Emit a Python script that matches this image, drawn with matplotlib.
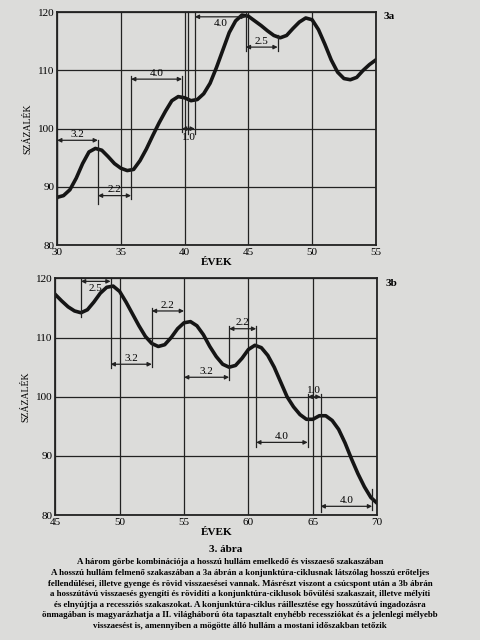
import matplotlib
matplotlib.use("Agg")
import matplotlib.pyplot as plt

plt.rcParams['font.family'] = ['Liberation Serif', 'DejaVu Serif']

years_a = [30,30.5,31,31.5,32,32.5,33,33.5,34,34.5,35,35.5,36,36.5,37,37.5,38,38.5,39,39.5,40,40.5,41,41.5,42,42.5,43,43.5,44,44.5,45,45.5,46,46.5,47,47.5,48,48.5,49,49.5,50,50.5,51,51.5,52,52.5,53,53.5,54,54.5,55]
pct_a = [88.2,88.5,89.5,91.5,94,96,96.6,96.3,95.2,94,93.2,92.8,93,94.5,96.5,98.8,101,103,104.8,105.5,105.3,104.8,105,106,107.8,110.5,113.5,116.5,118.5,119.5,119.3,118.5,117.7,116.8,116,115.6,116,117.2,118.3,119,118.7,117,114.5,111.8,109.7,108.6,108.4,108.8,110,111,111.8]
years_b = [45,45.5,46,46.5,47,47.5,48,48.5,49,49.5,50,50.5,51,51.5,52,52.5,53,53.5,54,54.5,55,55.5,56,56.5,57,57.5,58,58.5,59,59.5,60,60.5,61,61.5,62,62.5,63,63.5,64,64.5,65,65.5,66,66.5,67,67.5,68,68.5,69,69.5,70]
pct_b = [117.3,116.2,115.2,114.5,114.2,114.7,116,117.5,118.5,118.7,117.8,116,114,112,110.2,109,108.5,108.8,110,111.5,112.5,112.7,112,110.5,108.5,106.8,105.5,105,105.3,106.5,108,108.7,108.3,107,105,102.5,100,98.3,97,96.2,96.2,96.8,96.8,96,94.5,92.2,89.5,87,84.8,83,82]

# (x_start, x_end, y, label, label_offset)
spans_a = [(30,33.2,98,"3.2",1.0),(33.2,35.8,88.5,"2.2",1.0),(35.8,39.8,108.5,"4.0",1.0),
           (39.8,40.8,100,"1.0",-1.6),(40.8,44.8,119.2,"4.0",-1.2),(44.8,47.3,114,"2.5",1.0)]
vlines_a = [(30,88,98),(33.2,87,98),(35.8,88,109),(39.8,99.5,109),(40.3,99,120),(40.8,99,120),(44.8,113.3,120),(47.3,113.3,116)]
spans_b = [(47,49.3,119.5,"2.5",-1.2),(49.3,52.5,105.5,"3.2",1.0),(52.5,55,114.5,"2.2",1.0),
           (55,58.5,103.3,"3.2",1.0),(58.5,60.6,111.5,"2.2",1.0),(60.6,64.6,92.3,"4.0",1.0),
           (64.6,65.6,100,"1.0",1.0),(65.6,69.6,81.5,"4.0",1.0)]
vlines_b = [(47,113.5,120),(49.3,104.8,120),(52.5,105,115),(58.5,102.8,112),(60.6,91.6,112),(64.6,91.6,100.5),(65.6,80.5,100.5),(69.6,80.8,84.5)]

paper = '#dcdcda'
fig = plt.figure(figsize=(4.8,6.4), dpi=100, facecolor=paper)

def panel(rect, xs, ys, xlim, xt, spans, vls, tag):
    ax = fig.add_axes(rect, facecolor=paper)
    ax.set_xlim(*xlim); ax.set_ylim(80,120)
    ax.set_xticks(xt); ax.set_yticks([80,90,100,110,120])
    ax.tick_params(length=0, labelsize=8, pad=2)
    for s in ax.spines.values():
        s.set_linewidth(1.3); s.set_color('#222')
    ax.grid(True, color='#222', linewidth=0.9)
    ax.plot(xs, ys, color='#151515', linewidth=2.6)
    for x, y0, y1 in vls:
        ax.plot([x,x],[y0,y1], color='#222', linewidth=0.9, clip_on=False)
    for x0, x1, y, lab, off in spans:
        ax.annotate('', xy=(x1,y), xytext=(x0,y), annotation_clip=False,
                    arrowprops=dict(arrowstyle='<|-|>', color='#222', lw=0.9, mutation_scale=6, shrinkA=0, shrinkB=0))
        ax.text((x0+x1)/2, y+off, lab, ha='center', va='center', fontsize=8)
    ax.set_ylabel('SZÁZALÉK', fontsize=7, labelpad=4)
    ax.set_xlabel('ÉVEK', fontsize=8, labelpad=1, fontweight='bold')
    ax.text(1.025, 0.98, tag, transform=ax.transAxes, fontsize=8, fontweight='bold', va='center')
    return ax

panel([0.119,0.617,0.664,0.364], years_a, pct_a, (30,55), [30,35,40,45,50,55], spans_a, vlines_a, '3a')
panel([0.115,0.195,0.671,0.370], years_b, pct_b, (45,70), [45,50,55,60,65,70], spans_b, vlines_b, '3b')

fig.text(0.47, 0.138, '3. ábra', ha='center', fontsize=8, fontweight='bold')
caption = ["A három görbe kombinációja a hosszú hullám emelkedő és visszaeső szakaszában",
           "A hosszú hullám felmenő szakaszában a 3a ábrán a konjunktúra-ciklusnak látszólag hosszú erőteljes",
           "fellendülései, illetve gyenge és rövid visszaesései vannak. Másrészt viszont a csúcspont után a 3b ábrán",
           "a hosszútávú visszaesés gyengíti és rövidíti a konjunktúra-ciklusok bővülési szakaszait, illetve mélyíti",
           "és elnyújtja a recessziós szakaszokat. A konjunktúra-ciklus ráillesztése egy hosszútávú ingadozásra",
           "önmagában is magyarázhatja a II. világháború óta tapasztalt enyhébb recessziókat és a jelenlegi mélyebb",
           "visszaesést is, amennyiben a mögötte álló hullám a mostani időszakban tetőzik"]
for i, line in enumerate(caption):
    fig.text(0.5 if i else 0.48, 0.118 - i*0.0165, line, ha='center', fontsize=6.4, fontweight='bold')

fig.savefig('out.png', dpi=100, facecolor=paper)
